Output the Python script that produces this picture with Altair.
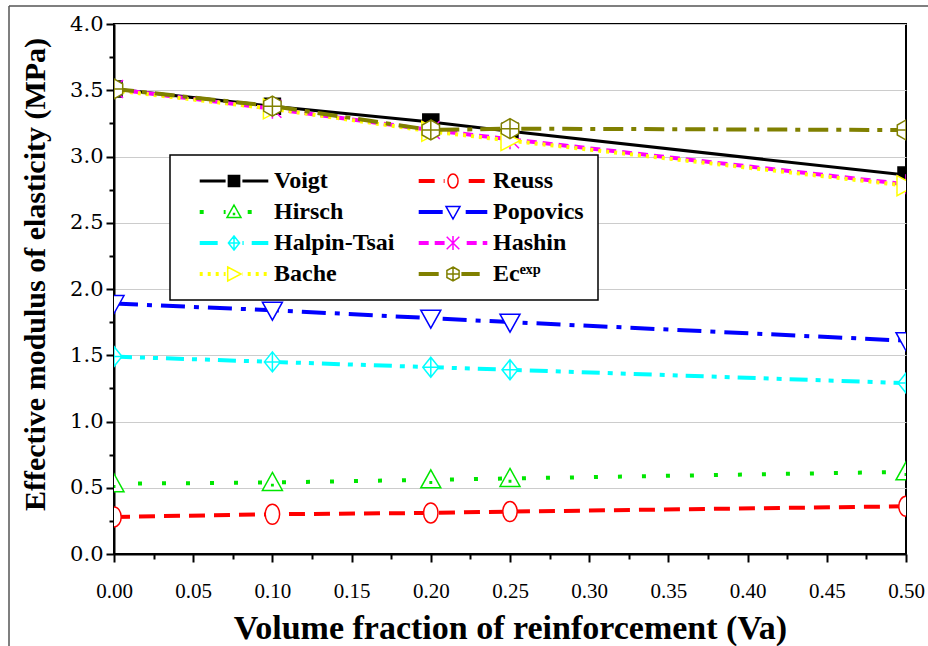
import altair as alt
import pandas as pd

# ---------------- data ----------------
x_vals = [0.0, 0.1, 0.2, 0.25, 0.5]
voigt = [3.51, 3.38, 3.26, 3.19, 2.86]
reuss = [0.28, 0.30, 0.31, 0.32, 0.36]
hirsch = [0.53, 0.54, 0.56, 0.57, 0.62]
popovics = [1.89, 1.84, 1.78, 1.75, 1.61]
halpin_tsai = [1.49, 1.45, 1.41, 1.39, 1.29]
hashin = [3.51, 3.36, 3.20, 3.13, 2.79]
bache = [3.50, 3.36, 3.19, 3.12, 2.78]
e_exp = [3.51, 3.38, 3.20, 3.21, 3.20]

series_names = ["Voigt", "Reuss", "Hirsch", "Popovics", "Halpin-Tsai",
                "Hashin", "Bache", "Ec\u1d49\u02e3\u1d56"]
series_values = [voigt, reuss, hirsch, popovics, halpin_tsai, hashin, bache, e_exp]
# legend is filled column by column: left column first, then right column
legend_order = [0, 2, 4, 6, 1, 3, 5, 7]

# ---------------- styles ----------------
colors = ["#000000", "#ff0000", "#00e600", "#0000ff", "#00ffff",
          "#ff00ff", "#ffff00", "#808000"]
fills = ["#000000", "#ffffff", "#ffffff", "#ffffff", "#ffffff",
         "#ffffff", "#ffffff", "#ffffff"]
dashes = [None, [16, 9], [4, 20], [24, 9, 5, 9], [18, 8, 5, 8, 5, 8],
          [10, 6], [3, 5], [20, 8, 5, 8]]
widths = [3, 4, 4, 4, 4, 4, 4, 4]
markers = [
    "M-0.8,-0.8H0.8V0.8H-0.8Z",
    "M0,-1A0.72,1,0,1,1,0,1A0.72,1,0,1,1,0,-1Z",
    "M0,-1L1,0.8H-1Z M-0.07,0.2H0.07V0.34H-0.07Z",
    "M-1,-0.8H1L0,1Z",
    "M0,-1L0.8,0L0,1L-0.8,0Z M0,-1V1 M-0.8,0H0.8",
    "M-0.9,-0.9L0.9,0.9 M-0.9,0.9L0.9,-0.9 M0,-1V1",
    "M-0.9,-1L1,0L-0.9,1Z",
    "M0,-1L0.87,-0.5V0.5L0,1L-0.87,0.5V-0.5Z M0,-1V1 M-0.87,0H0.87",
]

LEG_U = 7.0  # px per unit of legend symbol (symbolSize = (2*LEG_U)^2)
SERIF = "Liberation Serif, Times New Roman, serif"


def legend_path(marker, dash, width):
    left, right, gap = -4.9, 4.9, 1.2
    segs = []
    if dash is None:
        segs = [(left, -gap), (gap, right)]
    else:
        pos = left
        i = 0
        pat = [d / LEG_U for d in dash]
        while pos < right:
            ln = pat[i % len(pat)]
            if i % 2 == 0:
                a, b = pos, min(pos + ln, right)
                for s0, s1 in [(a, min(b, -gap)), (max(a, gap), b)]:
                    if s1 > s0:
                        segs.append((s0, s1))
            pos += ln
            i += 1
    half = (width - 1.5) / 2 / LEG_U
    offs = [-half, -half / 2, 0, half / 2, half]
    parts = []
    for a, b in segs:
        for o in offs:
            parts.append(f"M{a:.3f},{o:.3f}H{b:.3f}")
    return marker + " " + " ".join(parts)


legend_paths = [legend_path(m, d, w) for m, d, w in zip(markers, dashes, widths)]
leg_domain = [series_names[i] for i in legend_order]
leg_shapes = [legend_paths[i] for i in legend_order]
leg_colors = [colors[i] for i in legend_order]
leg_fills = [fills[i] for i in legend_order]

rows = []
for name, vals in zip(series_names, series_values):
    for xv, yv in zip(x_vals, vals):
        rows.append({"series": name, "x": xv, "y": yv})
df = pd.DataFrame(rows)

major_y = "abs(datum.value*2 - round(datum.value*2)) < 1e-6"
major_x = "abs(datum.value*20 - round(datum.value*20)) < 1e-6"

x_enc = alt.X(
    "x:Q",
    scale=alt.Scale(domain=[0, 0.5], nice=False, zero=False),
    axis=alt.Axis(
        values=[round(i * 0.025, 3) for i in range(21)],
        labelExpr=f"{major_x} ? format(datum.value, '.2f') : ''",
        tickSize={"condition": {"test": major_x, "value": 8}, "value": 5},
        grid=False,
        labelOverlap=False,
        labelFlush=False,
        title="Volume fraction of reinforcement (Va)",
        labelFont=SERIF,
        labelFontSize=21,
        labelPadding=18,
        titleFont=SERIF,
        titleFontSize=34,
        titleFontWeight="bold",
        titlePadding=10,
    ),
)
y_enc = alt.Y(
    "y:Q",
    scale=alt.Scale(domain=[0, 4], nice=False),
    axis=alt.Axis(
        values=[i * 0.25 for i in range(17)],
        labelExpr=f"{major_y} ? format(datum.value, '.1f') : ''",
        tickSize={"condition": {"test": major_y, "value": 8}, "value": 5},
        gridOpacity={"condition": {"test": major_y, "value": 1}, "value": 0},
        grid=True,
        labelOverlap=False,
        title="Effective modulus of elasticity (MPa)",
        labelFont="DejaVu Serif",
        labelFontSize=21,
        labelPadding=3,
        titleFont=SERIF,
        titleFontSize=30,
        titleFontWeight="bold",
        titlePadding=19,
        titleY=250,
    ),
)

base = alt.Chart(df).encode(x=x_enc, y=y_enc)

layers = []
for i, name in enumerate(series_names):
    sub = base.transform_filter(alt.datum.series == name)
    line_kw = dict(color=colors[i], strokeWidth=widths[i], clip=True)
    if dashes[i] is not None:
        line_kw["strokeDash"] = dashes[i]
    layers.append(sub.mark_line(**line_kw))
    layers.append(
        sub.mark_point(
            shape=markers[i], size=400, filled=True, fill=fills[i],
            stroke=colors[i], strokeWidth=1.5, opacity=1, clip=True,
        )
    )

leg = alt.Legend(
    title=None,
    orient="none",
    legendX=56,
    legendY=131,
    columns=2,
    columnPadding=8,
    rowPadding=7,
    padding=14,
    symbolOffset=38,
    labelOffset=28,
    symbolSize=(2 * LEG_U) ** 2,
    symbolStrokeWidth=1.5,
    labelFont=SERIF,
    labelFontSize=24,
    labelFontWeight="bold",
    labelColor="#000000",
    strokeColor="#000000",
    fillColor="#ffffff",
    labelLimit=300,
)

legend_layer = base.transform_filter("datum.x < -1").mark_point(
    filled=True, opacity=1
).encode(
    shape=alt.Shape("series:N", scale=alt.Scale(domain=leg_domain, range=leg_shapes), legend=leg),
    stroke=alt.Stroke("series:N", scale=alt.Scale(domain=leg_domain, range=leg_colors), legend=leg),
    fill=alt.Fill("series:N", scale=alt.Scale(domain=leg_domain, range=leg_fills), legend=leg),
)

frame_df = pd.DataFrame({"k": [0]})
frame_left = alt.Chart(frame_df).mark_rule(color="#555555", strokeWidth=1.5).encode(
    x=alt.value(-105), y=alt.value(-18), y2=alt.value(640)
)
frame_top = alt.Chart(frame_df).mark_rule(color="#555555", strokeWidth=1.5).encode(
    x=alt.value(-105), x2=alt.value(830), y=alt.value(-18)
)

chart = alt.layer(*layers, legend_layer, frame_left, frame_top).properties(
    width=792,
    height=530,
    padding={"left": 114, "top": 24, "right": 22, "bottom": 92},
    autosize=alt.AutoSizeParams(type="none"),
    background="#ffffff",
).configure_view(
    stroke="#000000", strokeWidth=2
).configure_axis(
    domainColor="#000000", domainWidth=2, tickColor="#000000", tickWidth=2,
    gridColor="#cccccc", gridWidth=1, labelColor="#000000", titleColor="#000000",
    labelFont=SERIF, titleFont=SERIF,
).configure_legend(
    strokeWidth=1.5, labelFont=SERIF
)

chart.save("out.html", embed_options={"renderer": "svg", "actions": False})
